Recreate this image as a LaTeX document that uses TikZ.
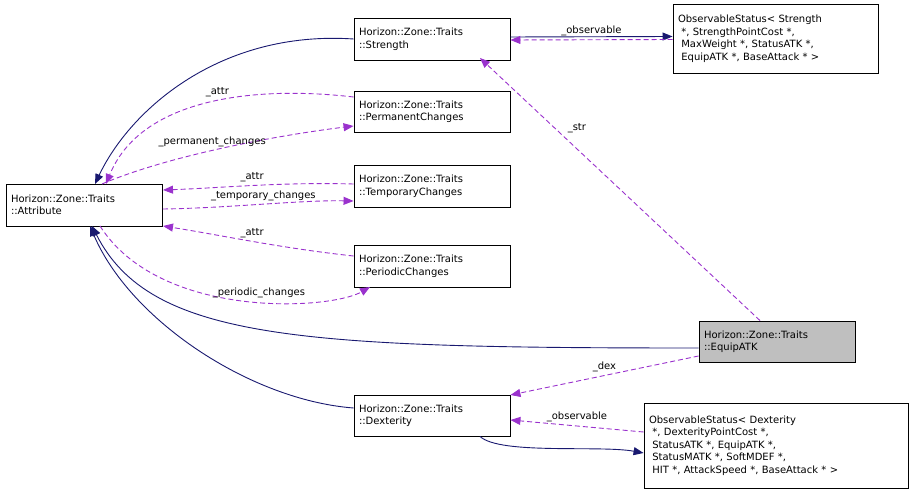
\documentclass[tikz,border=0pt]{standalone}
\usepackage{fontspec}
\setmainfont{DejaVu Sans}
\usetikzlibrary{arrows.meta}
\begin{document}
\begin{tikzpicture}[x=1pt,y=-1pt,line width=0.9pt,
  box/.style={draw=black,fill=white,inner xsep=5pt,inner ysep=0pt,align=left,font=\fontsize{10}{12.5}\selectfont},
  inh/.style={draw={rgb,255:red,25;green,25;blue,112},-{Triangle[length=10pt,width=8pt]}},
  use/.style={draw={rgb,255:red,154;green,50;blue,205},dash pattern=on 5pt off 3pt,-{Triangle[length=10pt,width=8pt]}},
  lbl/.style={font=\fontsize{10}{12}\selectfont}]
\useasboundingbox (0,0) rectangle (916,494);
\node[box,text width=146pt,minimum height=42pt] (attr) at (84,205) {Horizon::Zone::Traits\\::Attribute};
\node[box,text width=146pt,minimum height=42pt] (str) at (432,39) {Horizon::Zone::Traits\\::Strength};
\node[box,text width=195pt,minimum height=69pt] (os) at (775.5,38.5) {ObservableStatus< Strength\\~*, StrengthPointCost *,\\~MaxWeight *, StatusATK *,\\~EquipATK *, BaseAttack * >};
\node[box,text width=146pt,minimum height=41pt] (perm) at (432,111.5) {Horizon::Zone::Traits\\::PermanentChanges};
\node[box,text width=146pt,minimum height=42pt] (temp) at (432,186) {Horizon::Zone::Traits\\::TemporaryChanges};
\node[box,text width=146pt,minimum height=42pt] (peri) at (432,266) {Horizon::Zone::Traits\\::PeriodicChanges};
\node[box,fill={rgb,255:red,191;green,191;blue,191},text width=146pt,minimum height=41pt] (eq) at (777,341.5) {Horizon::Zone::Traits\\::EquipATK};
\node[box,text width=146pt,minimum height=41pt] (dex) at (432,415.5) {Horizon::Zone::Traits\\::Dexterity};
\node[box,text width=254pt,minimum height=85pt] (od) at (776,445.5) {ObservableStatus< Dexterity\\~*, DexterityPointCost *,\\~StatusATK *, EquipATK *,\\~StatusMATK *, SoftMDEF *,\\~HIT *, AttackSpeed *, BaseAttack * >};
% inheritance
\draw[inh] (str.west) .. controls (220,30) and (130,110) .. (95,184);
\draw[inh] (eq.west |- 0,348) .. controls (300,348) and (150,340) .. (92,226);
\draw[inh] (dex.west |- 0,408) .. controls (250,400) and (130,320) .. (90,226);
\draw[inh] ([yshift=2pt]str.east) -- ([yshift=2pt]os.west);
\draw[inh] (dex.south -| 480,0) .. controls (500,455) and (600,445) .. (od.west |- 0,453);
% usage
\draw[use] (perm.west |- 0,97) .. controls (250,85) and (140,100) .. node[lbl,above,pos=0.45]{\_attr} (106,184);
\draw[use] (102,184) .. controls (170,155) and (280,135) .. node[lbl,above,pos=0.45]{\_permanent\_changes} (perm.west |- 0,126);
\draw[use] (temp.west |- 0,184) .. controls (280,182) and (220,188) .. node[lbl,above,pos=0.5]{\_attr} (163,190);
\draw[use] (163,209) .. controls (230,208) and (300,200) .. node[lbl,above,pos=0.5]{\_temporary\_changes} (temp.west |- 0,201);
\draw[use] (peri.west |- 0,256) .. controls (280,248) and (220,235) .. node[lbl,above,pos=0.5]{\_attr} (163,226);
\draw[use] (100,226) .. controls (160,320) and (330,310) .. node[lbl,above,pos=0.55]{\_periodic\_changes} (370,287);
\draw[use] ([yshift=-1pt]os.west) -- node[lbl,above]{\_observable} ([yshift=-1pt]str.east);
\draw[use] (eq.north -| 760,0) -- node[lbl,pos=0.7,above right]{\_str} (480,58);
\draw[use] (eq.west |- 0,356) -- node[lbl,above]{\_dex} (dex.east |- 0,395);
\draw[use] (od.west |- 0,432) -- node[lbl,above]{\_observable} (dex.east |- 0,420);
\end{tikzpicture}
\end{document}
